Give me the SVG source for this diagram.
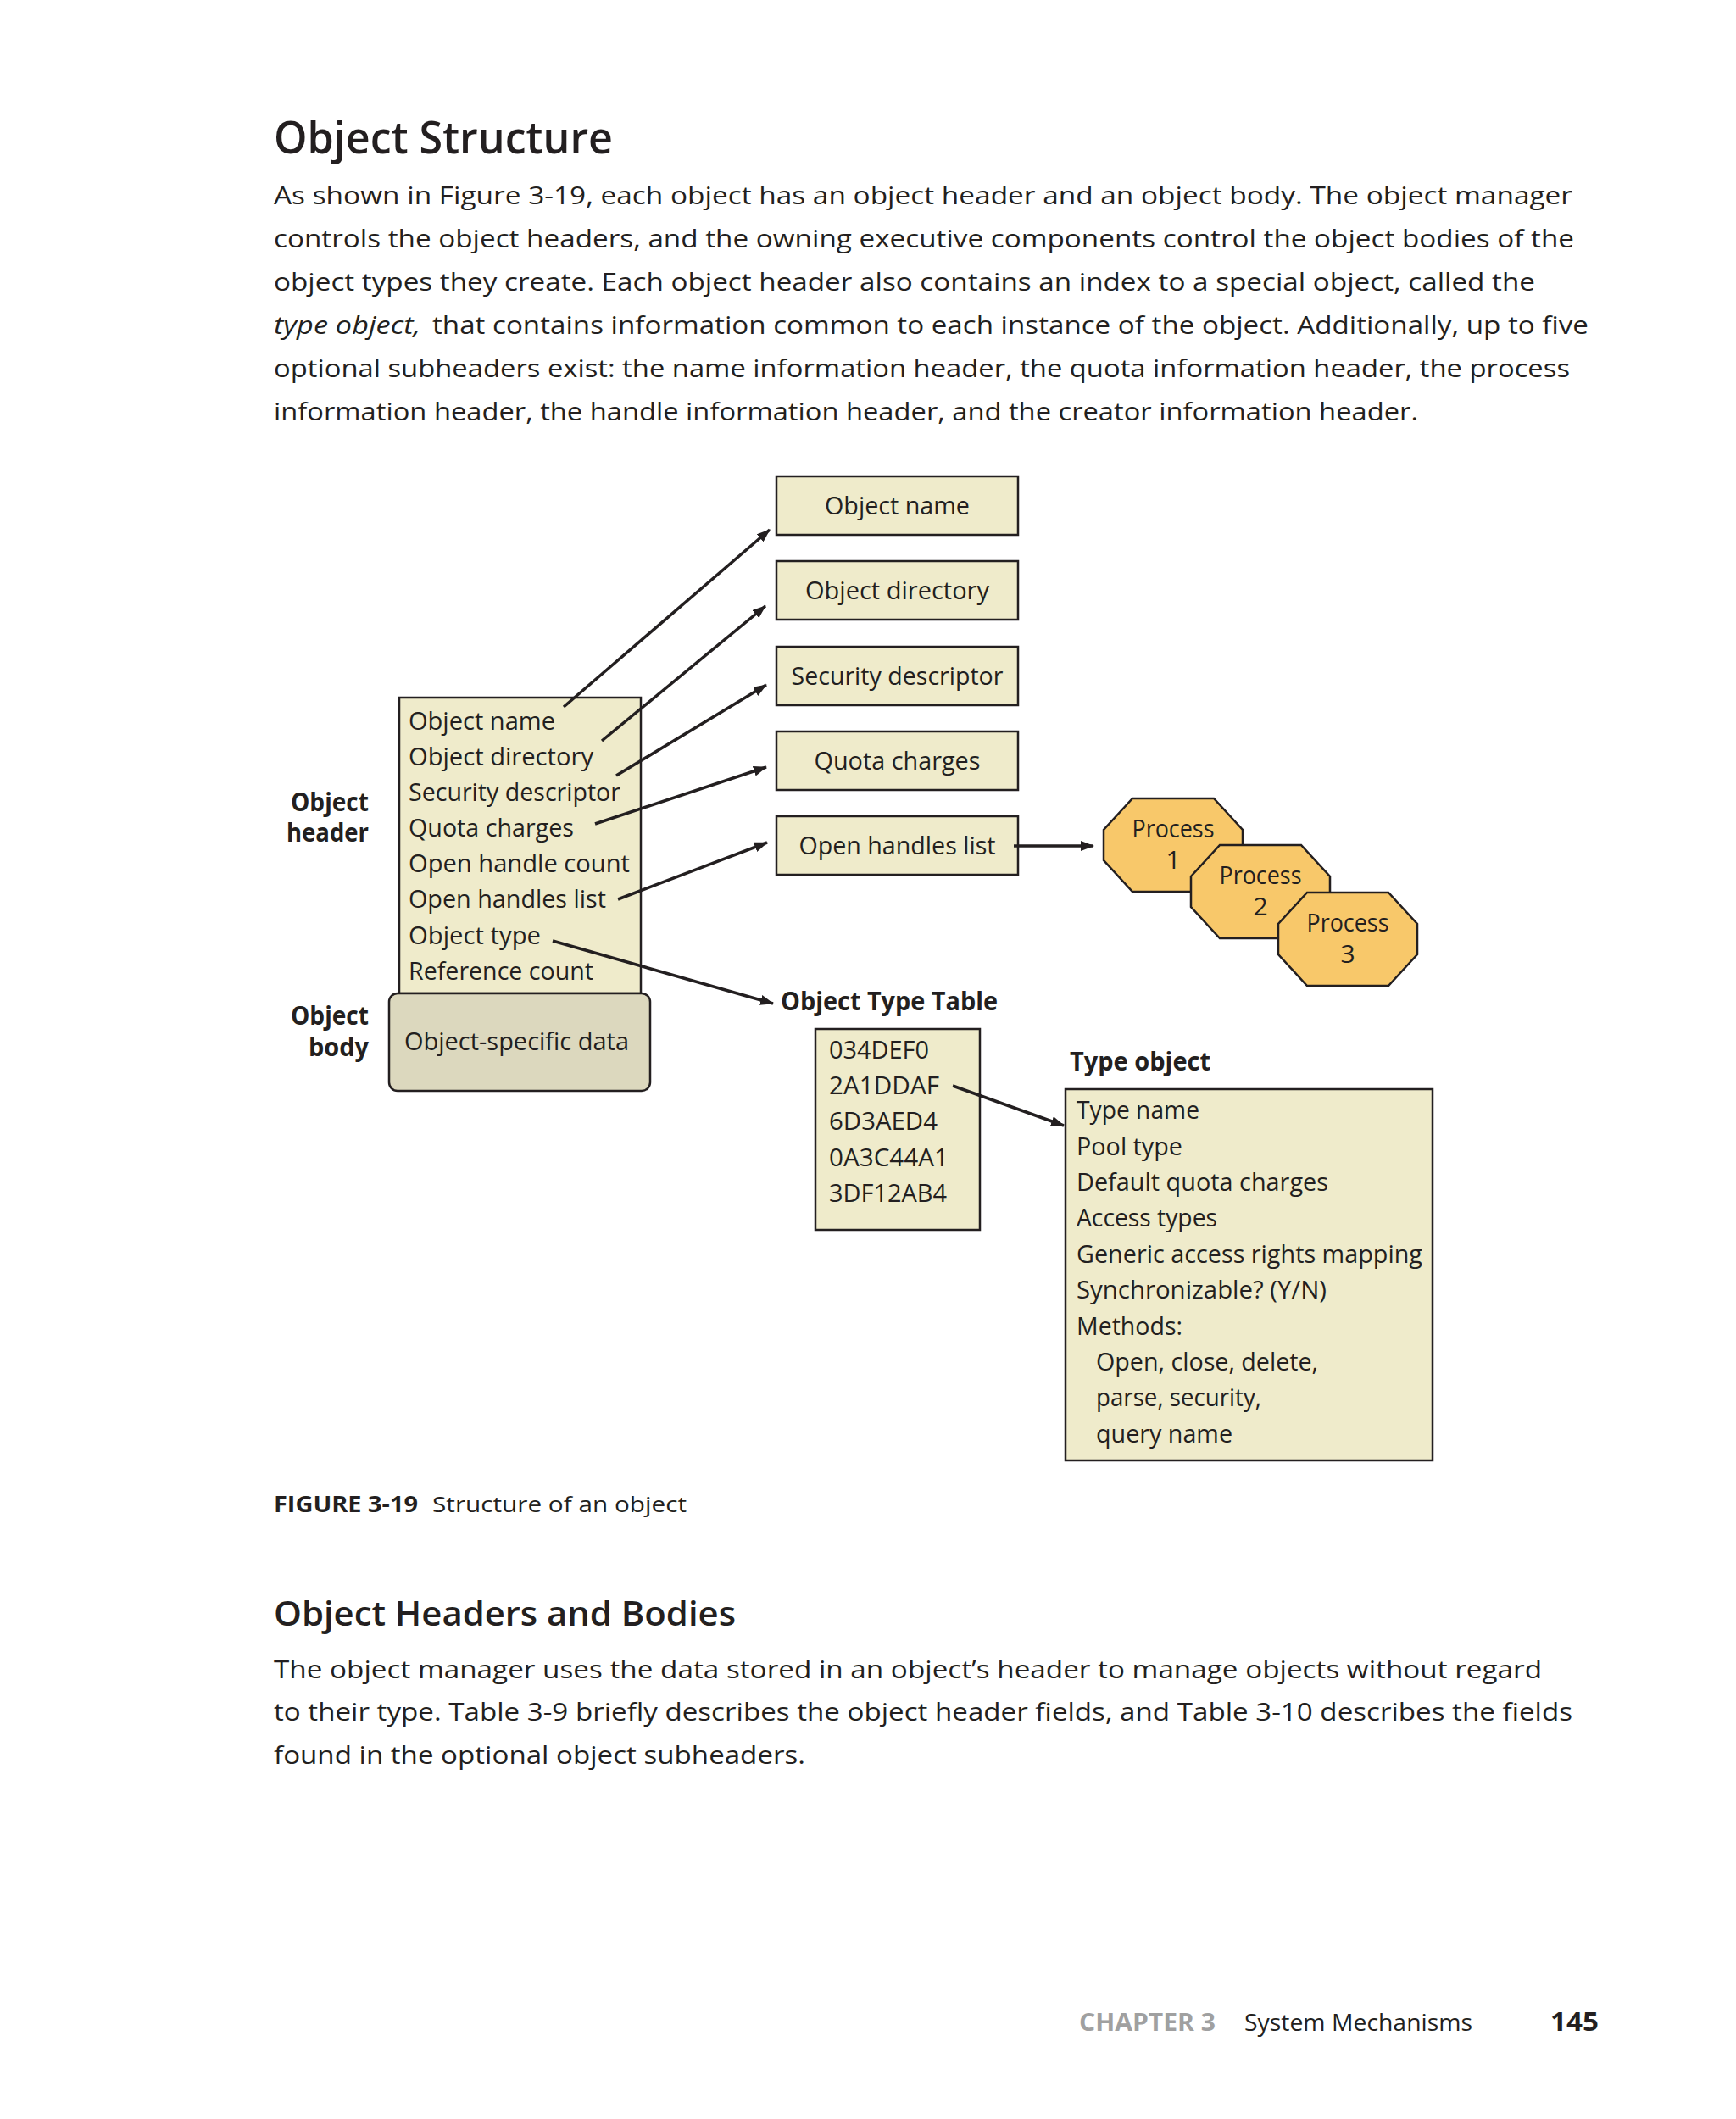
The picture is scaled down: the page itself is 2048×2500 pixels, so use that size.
<svg xmlns="http://www.w3.org/2000/svg" width="2048" height="2500" viewBox="0 0 2048 2500">
<style>
text{font-family:"Open Sans","Noto Sans","Liberation Sans",sans-serif;fill:#231f20}
.p{font-size:29px}
.h1{font-size:52px;font-weight:600}
.h2{font-size:40px;font-weight:600}
.t{font-size:30px}
.b{font-size:30px;font-weight:700}
.c{font-size:26px}
.box{fill:#efebcb;stroke:#231f20;stroke-width:2.5}
.oct{fill:#f8c86a;stroke:#231f20;stroke-width:2.5}
.ln{stroke:#231f20;stroke-width:3.5;fill:none;marker-end:url(#ah)}
</style>
<defs>
<marker id="ah" markerUnits="userSpaceOnUse" markerWidth="16" markerHeight="12" refX="15" refY="6" orient="auto">
<path d="M0,0 L16,6 L0,12 z" fill="#231f20"/>
</marker>
<polygon id="octShape" points="34,0 130,0 164,37 164,73 130,110 34,110 0,73 0,37"/>
</defs>
<rect width="2048" height="2500" fill="#ffffff"/>

<g id="page-text">
<text class="h1" x="323" y="181" textLength="400" lengthAdjust="spacingAndGlyphs">Object Structure</text>
<text class="p" x="323" y="241" textLength="1532" lengthAdjust="spacingAndGlyphs">As shown in Figure 3-19, each object has an object header and an object body. The object manager</text>
<text class="p" x="323" y="292" textLength="1534" lengthAdjust="spacingAndGlyphs">controls the object headers, and the owning executive components control the object bodies of the</text>
<text class="p" x="323" y="343" textLength="1488" lengthAdjust="spacingAndGlyphs">object types they create. Each object header also contains an index to a special object, called the</text>
<text class="p" x="323" y="394" textLength="173" lengthAdjust="spacingAndGlyphs" font-style="italic">type object,</text>
<text class="p" x="510" y="394" textLength="1364" lengthAdjust="spacingAndGlyphs">that contains information common to each instance of the object. Additionally, up to five</text>
<text class="p" x="323" y="445" textLength="1529" lengthAdjust="spacingAndGlyphs">optional subheaders exist: the name information header, the quota information header, the process</text>
<text class="p" x="323" y="496" textLength="1350" lengthAdjust="spacingAndGlyphs">information header, the handle information header, and the creator information header.</text>

<text class="c" x="323" y="1784" font-weight="700" textLength="170" lengthAdjust="spacingAndGlyphs">FIGURE 3-19</text>
<text class="c" x="510" y="1784" textLength="300" lengthAdjust="spacingAndGlyphs">Structure of an object</text>

<text class="h2" x="323" y="1918" textLength="545" lengthAdjust="spacingAndGlyphs">Object Headers and Bodies</text>
<text class="p" x="323" y="1980" textLength="1496" lengthAdjust="spacingAndGlyphs">The object manager uses the data stored in an object’s header to manage objects without regard</text>
<text class="p" x="323" y="2030" textLength="1532" lengthAdjust="spacingAndGlyphs">to their type. Table 3-9 briefly describes the object header fields, and Table 3-10 describes the fields</text>
<text class="p" x="323" y="2081" textLength="627" lengthAdjust="spacingAndGlyphs">found in the optional object subheaders.</text>

<text x="1273" y="2396" font-size="28" font-weight="700" style="fill:#a0a0a0" textLength="161" lengthAdjust="spacingAndGlyphs">CHAPTER 3</text>
<text x="1468" y="2396" font-size="28" textLength="269" lengthAdjust="spacingAndGlyphs">System Mechanisms</text>
<text x="1829" y="2396" font-size="31" font-weight="700" textLength="57" lengthAdjust="spacingAndGlyphs">145</text>
</g>

<g id="object-header">
<rect class="box" x="471" y="823" width="285" height="349"/>
<text class="t" x="482" y="861" textLength="173" lengthAdjust="spacingAndGlyphs">Object name</text>
<text class="t" x="482" y="903" textLength="218" lengthAdjust="spacingAndGlyphs">Object directory</text>
<text class="t" x="482" y="945" textLength="250" lengthAdjust="spacingAndGlyphs">Security descriptor</text>
<text class="t" x="482" y="987" textLength="195" lengthAdjust="spacingAndGlyphs">Quota charges</text>
<text class="t" x="482" y="1029" textLength="261" lengthAdjust="spacingAndGlyphs">Open handle count</text>
<text class="t" x="482" y="1071" textLength="233" lengthAdjust="spacingAndGlyphs">Open handles list</text>
<text class="t" x="482" y="1114" textLength="156" lengthAdjust="spacingAndGlyphs">Object type</text>
<text class="t" x="482" y="1156" textLength="218" lengthAdjust="spacingAndGlyphs">Reference count</text>
</g>
<g id="object-header-label">
<text class="b" x="435" y="957" text-anchor="end" textLength="92" lengthAdjust="spacingAndGlyphs">Object</text>
<text class="b" x="435" y="993" text-anchor="end" textLength="97" lengthAdjust="spacingAndGlyphs">header</text>
</g>

<g id="object-body">
<rect x="459" y="1172" width="308" height="115" rx="10" fill="#dcd8be" stroke="#231f20" stroke-width="2.5"/>
<text class="t" x="477" y="1239" textLength="265" lengthAdjust="spacingAndGlyphs">Object-specific data</text>
</g>
<g id="object-body-label">
<text class="b" x="435" y="1209" text-anchor="end" textLength="92" lengthAdjust="spacingAndGlyphs">Object</text>
<text class="b" x="435" y="1246" text-anchor="end" textLength="71" lengthAdjust="spacingAndGlyphs">body</text>
</g>

<g id="box-object-name">
<rect class="box" x="916" y="562" width="285" height="69"/>
<text class="t" x="1058.5" y="607" text-anchor="middle" textLength="171" lengthAdjust="spacingAndGlyphs">Object name</text>
</g>
<g id="box-object-directory">
<rect class="box" x="916" y="662" width="285" height="69"/>
<text class="t" x="1058.5" y="707" text-anchor="middle" textLength="217" lengthAdjust="spacingAndGlyphs">Object directory</text>
</g>
<g id="box-security-descriptor">
<rect class="box" x="916" y="763" width="285" height="69"/>
<text class="t" x="1058.5" y="808" text-anchor="middle" textLength="250" lengthAdjust="spacingAndGlyphs">Security descriptor</text>
</g>
<g id="box-quota-charges">
<rect class="box" x="916" y="863" width="285" height="69"/>
<text class="t" x="1058.5" y="908" text-anchor="middle" textLength="196" lengthAdjust="spacingAndGlyphs">Quota charges</text>
</g>
<g id="box-open-handles-list">
<rect class="box" x="916" y="963" width="285" height="69"/>
<text class="t" x="1058.5" y="1008" text-anchor="middle" textLength="232" lengthAdjust="spacingAndGlyphs">Open handles list</text>
</g>

<g id="process-1">
<use href="#octShape" class="oct" x="1302" y="942"/>
<text class="t" x="1384" y="988" text-anchor="middle" textLength="97" lengthAdjust="spacingAndGlyphs">Process</text>
<text class="t" x="1384" y="1025" text-anchor="middle">1</text>
</g>
<g id="process-2">
<use href="#octShape" class="oct" x="1405" y="997"/>
<text class="t" x="1487" y="1043" text-anchor="middle" textLength="97" lengthAdjust="spacingAndGlyphs">Process</text>
<text class="t" x="1487" y="1080" text-anchor="middle">2</text>
</g>
<g id="process-3">
<use href="#octShape" class="oct" x="1508" y="1053"/>
<text class="t" x="1590" y="1099" text-anchor="middle" textLength="97" lengthAdjust="spacingAndGlyphs">Process</text>
<text class="t" x="1590" y="1136" text-anchor="middle">3</text>
</g>

<g id="object-type-table">
<text class="b" x="921" y="1192" textLength="256" lengthAdjust="spacingAndGlyphs">Object Type Table</text>
<rect class="box" x="962" y="1214" width="194" height="237"/>
<text class="t" x="978" y="1249" textLength="118" lengthAdjust="spacingAndGlyphs">034DEF0</text>
<text class="t" x="978" y="1291" textLength="130" lengthAdjust="spacingAndGlyphs">2A1DDAF</text>
<text class="t" x="978" y="1333" textLength="128" lengthAdjust="spacingAndGlyphs">6D3AED4</text>
<text class="t" x="978" y="1376" textLength="141" lengthAdjust="spacingAndGlyphs">0A3C44A1</text>
<text class="t" x="978" y="1418" textLength="139" lengthAdjust="spacingAndGlyphs">3DF12AB4</text>
</g>

<g id="type-object">
<text class="b" x="1262" y="1263" textLength="166" lengthAdjust="spacingAndGlyphs">Type object</text>
<rect class="box" x="1257" y="1285" width="433" height="438"/>
<text class="t" x="1270" y="1320" textLength="145" lengthAdjust="spacingAndGlyphs">Type name</text>
<text class="t" x="1270" y="1363" textLength="125" lengthAdjust="spacingAndGlyphs">Pool type</text>
<text class="t" x="1270" y="1405" textLength="297" lengthAdjust="spacingAndGlyphs">Default quota charges</text>
<text class="t" x="1270" y="1447" textLength="166" lengthAdjust="spacingAndGlyphs">Access types</text>
<text class="t" x="1270" y="1490" textLength="408" lengthAdjust="spacingAndGlyphs">Generic access rights mapping</text>
<text class="t" x="1270" y="1532" textLength="295" lengthAdjust="spacingAndGlyphs">Synchronizable? (Y/N)</text>
<text class="t" x="1270" y="1575" textLength="125" lengthAdjust="spacingAndGlyphs">Methods:</text>
<text class="t" x="1293" y="1617" textLength="262" lengthAdjust="spacingAndGlyphs">Open, close, delete,</text>
<text class="t" x="1293" y="1659" textLength="195" lengthAdjust="spacingAndGlyphs">parse, security,</text>
<text class="t" x="1293" y="1702" textLength="161" lengthAdjust="spacingAndGlyphs">query name</text>
</g>

<g id="connectors">
<line class="ln" x1="665" y1="834" x2="908" y2="625"/>
<line class="ln" x1="710" y1="874" x2="903" y2="715"/>
<line class="ln" x1="727" y1="915" x2="904" y2="808"/>
<line class="ln" x1="702" y1="972" x2="904" y2="905"/>
<line class="ln" x1="729" y1="1061" x2="905" y2="994"/>
<line class="ln" x1="652" y1="1110" x2="912" y2="1184"/>
<line class="ln" x1="1196" y1="998" x2="1290" y2="998"/>
<line class="ln" x1="1124" y1="1281" x2="1255" y2="1328"/>
</g>
</svg>
